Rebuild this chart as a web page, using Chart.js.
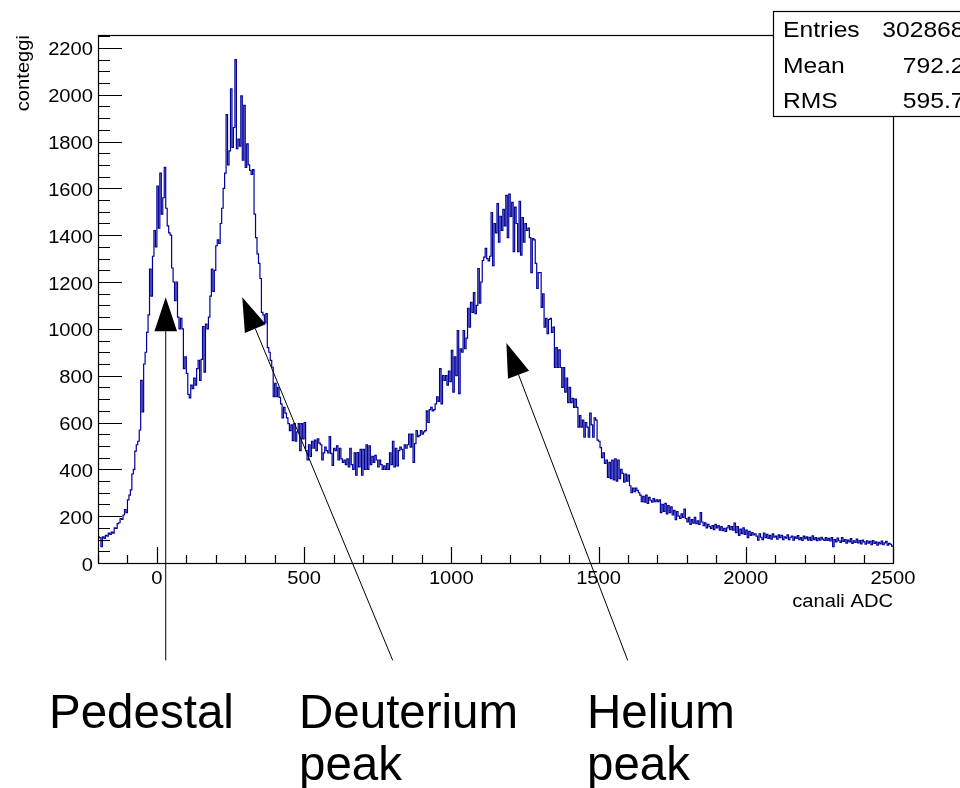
<!DOCTYPE html>
<html>
<head>
<meta charset="utf-8">
<script src="https://cdn.jsdelivr.net/npm/chart.js@4.4.1/dist/chart.umd.min.js"></script>
<style>
  html, body { margin: 0; padding: 0; background: #ffffff; }
  canvas { display: block; }
</style>
</head>
<body>
<canvas id="spectrum" width="960" height="788"></canvas>
<script>
// ADC spectrum: bins of 5 channels starting at -200
const binStart = -200;
const binWidth = 5;

// -200 .. 100
const pedestalCounts = [
  112,108,70,112,105,118,115,128,122,132,128,150,148,168,172,190,186,205,228,215,
  270,290,312,380,400,478,505,520,568,780,645,850,900,985,1060,1255,1140,1310,1420,1350,
  1610,1430,1665,1490,1560,1690,1515,1440,1410,1400,1260,1200,1120,1200,1050,1000,1045,1000,830,880
];
// 100 .. 500
const deuteriumCounts = [
  810,720,705,760,745,790,760,830,865,780,870,1010,815,1020,1000,1050,1140,1255,1160,1250,
  1355,1380,1365,1450,1515,1600,1665,1915,1700,1760,2025,1775,1860,2150,1770,1810,1780,1995,1720,1955,
  1690,1790,1700,1677,1660,1680,1490,1390,1320,1280,1215,1070,1060,1025,1065,920,900,865,836,710,
  767,710,750,707,680,620,665,640,620,595,565,590,523,595,520,560,595,480,595,530
];
// 500 .. 900
const valleyCounts = [
  600,480,440,505,455,520,490,525,480,530,512,505,440,470,495,480,470,540,468,417,
  490,480,500,440,490,445,430,440,420,445,410,490,420,400,470,375,472,410,485,375,
  485,400,505,400,500,420,455,430,460,440,410,440,420,400,415,400,425,400,470,420,
  520,410,490,415,480,495,485,445,505,490,505,550,495,550,430,510,565,540,545,565
];
// 900 .. 1500
const heliumCounts = [
  550,560,565,650,600,655,665,650,655,680,710,690,830,680,800,780,800,760,820,775,
  908,730,880,800,993,723,915,900,993,915,960,1088,1007,1113,1070,1155,1065,1100,1257,1110,
  1200,1292,1306,1344,1300,1290,1310,1497,1270,1450,1410,1535,1370,1480,1420,1510,1440,1570,1390,1575,
  1480,1540,1330,1520,1450,1330,1545,1315,1475,1370,1450,1420,1430,1390,1240,1385,1380,1280,1173,1240,
  1240,1092,1150,1007,1045,980,1040,1045,985,1007,835,920,835,910,835,750,835,730,790,685,
  750,685,703,665,700,665,580,630,580,610,537,600,580,537,640,590,537,620,610,525
];
// 1500 .. 2500
const tailCounts = [
  520,493,450,470,425,440,366,430,360,440,355,445,350,440,360,400,383,345,380,350,
  375,330,300,320,305,320,310,300,290,262,285,260,290,255,280,268,260,275,262,270,
  262,270,215,250,220,255,210,245,215,240,205,225,185,220,200,190,210,195,230,190,
  175,195,165,185,170,195,168,180,165,215,175,160,172,150,165,155,148,160,142,165,
  150,160,140,155,138,148,135,150,160,142,155,140,170,130,155,118,145,125,150,122,
  140,108,135,118,130,120,125,115,98,125,110,100,128,108,122,105,118,102,125,110,
  115,102,120,108,118,100,112,106,120,100,110,115,98,112,105,117,100,108,96,115,
  104,112,98,110,96,116,100,108,95,106,98,110,102,96,108,97,105,94,108,70,
  100,90,106,95,88,108,92,100,85,98,90,104,84,95,88,102,86,96,82,98,
  90,80,95,85,92,78,96,84,90,76,88,82,94,78,86,92,76,84,80,72
];

const xTickLabels = [0, 500, 1000, 1500, 2000, 2500];
const yTickLabels = [0, 200, 400, 600, 800, 1000, 1200, 1400, 1600, 1800, 2000, 2200];
const xTitle = 'canali ADC';
const yTitle = 'conteggi';
const statNames = ['Entries', 'Mean', 'RMS'];
const statValues = ['302868', '792.2', '595.7'];

// annotation arrows: tip and tail in axis units
const noteLines = [['Pedestal'], ['Deuterium', 'peak'], ['Helium', 'peak']];
const noteTips = [[30, 1135], [290, 1135], [1187, 940]];
const noteTails = [[30, -416], [801, -416], [1599, -416]];

const counts = [].concat(pedestalCounts, deuteriumCounts, valleyCounts, heliumCounts, tailCounts);
const histPoints = counts.map((v, i) => ({ x: binStart + i * binWidth, y: v }));
histPoints.push({ x: binStart + counts.length * binWidth, y: counts[counts.length - 1] });

const FONT = '"Liberation Sans", Arial, Helvetica, sans-serif';
const WIDEN = 1.12;

function wideText(ctx, str, x, y, align, size, rot) {
  ctx.save();
  ctx.translate(x, y);
  if (rot) ctx.rotate(rot);
  ctx.scale(WIDEN, 1);
  ctx.font = size + 'px ' + FONT;
  ctx.textAlign = align;
  ctx.textBaseline = 'alphabetic';
  ctx.fillStyle = '#000';
  ctx.fillText(str, 0, 0);
  ctx.restore();
}

const rootFrame = {
  id: 'rootFrame',
  afterDatasetsDraw(chart) {
    const ctx = chart.ctx;
    const a = chart.chartArea;
    const xs = chart.scales.x, ys = chart.scales.y;
    ctx.save();
    ctx.strokeStyle = '#000';
    ctx.lineWidth = 1.2;
    // frame
    ctx.strokeRect(a.left + 0.5, a.top + 0.5, a.right - a.left, a.bottom - a.top);
    // y ticks (inside frame)
    ctx.beginPath();
    for (let v = ys.min; v <= ys.max; v += 50) {
      const y = Math.round(ys.getPixelForValue(v)) + 0.5;
      const len = (v % 200 === 0) ? 24 : 12;
      ctx.moveTo(a.left, y);
      ctx.lineTo(a.left + len, y);
    }
    // x ticks (inside frame)
    for (let v = xs.min; v <= xs.max; v += 100) {
      const x = Math.round(xs.getPixelForValue(v)) + 0.5;
      const len = (v % 500 === 0) ? 16 : 8;
      ctx.moveTo(x, a.bottom);
      ctx.lineTo(x, a.bottom - len);
    }
    ctx.stroke();
    ctx.restore();

    yTickLabels.forEach(v => {
      wideText(ctx, String(v), a.left - 5, ys.getPixelForValue(v) + 7.5, 'right', 18);
    });
    xTickLabels.forEach(v => {
      wideText(ctx, String(v), xs.getPixelForValue(v), a.bottom + 21, 'center', 18);
    });
    wideText(ctx, xTitle, a.right, a.bottom + 44, 'right', 18);
    wideText(ctx, yTitle, 29, a.top, 'right', 18, -Math.PI / 2);
  },
  afterDraw(chart) {
    const ctx = chart.ctx;
    const xs = chart.scales.x, ys = chart.scales.y;

    // statistics box
    ctx.save();
    ctx.fillStyle = '#fff';
    ctx.fillRect(773.5, 11.5, 220, 105);
    ctx.strokeStyle = '#000';
    ctx.lineWidth = 1.2;
    ctx.strokeRect(773.5, 11.5, 220, 105);
    ctx.restore();
    const rowBase = [36.7, 72.5, 108];
    statNames.forEach((n, i) => {
      wideText(ctx, n, 783, rowBase[i], 'left', 22);
      wideText(ctx, statValues[i], 964.5, rowBase[i], 'right', 22);
    });

    // arrows
    ctx.save();
    ctx.strokeStyle = '#000';
    ctx.fillStyle = '#000';
    ctx.lineWidth = 1;
    noteTips.forEach((tip, i) => {
      const tx = xs.getPixelForValue(tip[0]), ty = ys.getPixelForValue(tip[1]);
      const sx = xs.getPixelForValue(noteTails[i][0]), sy = ys.getPixelForValue(noteTails[i][1]);
      const dx = tx - sx, dy = ty - sy, L = Math.hypot(dx, dy);
      const ux = dx / L, uy = dy / L;
      const headLen = 34, halfW = 11.3;
      const bx = tx - ux * headLen, by = ty - uy * headLen;
      ctx.beginPath();
      ctx.moveTo(sx, sy);
      ctx.lineTo(bx, by);
      ctx.stroke();
      ctx.beginPath();
      ctx.moveTo(tx, ty);
      ctx.lineTo(bx - uy * halfW, by + ux * halfW);
      ctx.lineTo(bx + uy * halfW, by - ux * halfW);
      ctx.closePath();
      ctx.fill();
    });
    ctx.restore();

    // annotation captions
    const captionLeft = [49, 299, 587];
    ctx.save();
    ctx.font = '47.5px ' + FONT;
    ctx.fillStyle = '#000';
    ctx.textAlign = 'left';
    ctx.textBaseline = 'alphabetic';
    noteLines.forEach((lines, i) => {
      lines.forEach((s, j) => ctx.fillText(s, captionLeft[i], 728 + j * 52));
    });
    ctx.restore();
  }
};

new Chart(document.getElementById('spectrum'), {
  type: 'line',
  data: {
    datasets: [{
      data: histPoints,
      stepped: 'before',
      borderColor: '#00009a',
      borderWidth: 1.2,
      pointRadius: 0,
      fill: false,
      tension: 0
    }]
  },
  options: {
    responsive: false,
    devicePixelRatio: 1,
    animation: false,
    events: [],
    layout: { padding: { left: 98, top: 35, right: 67, bottom: 225 } },
    plugins: { legend: { display: false }, tooltip: { enabled: false } },
    scales: {
      x: { type: 'linear', min: -200, max: 2500, display: false },
      y: { type: 'linear', min: 0, max: 2255, display: false }
    }
  },
  plugins: [rootFrame]
});
</script>
</body>
</html>
